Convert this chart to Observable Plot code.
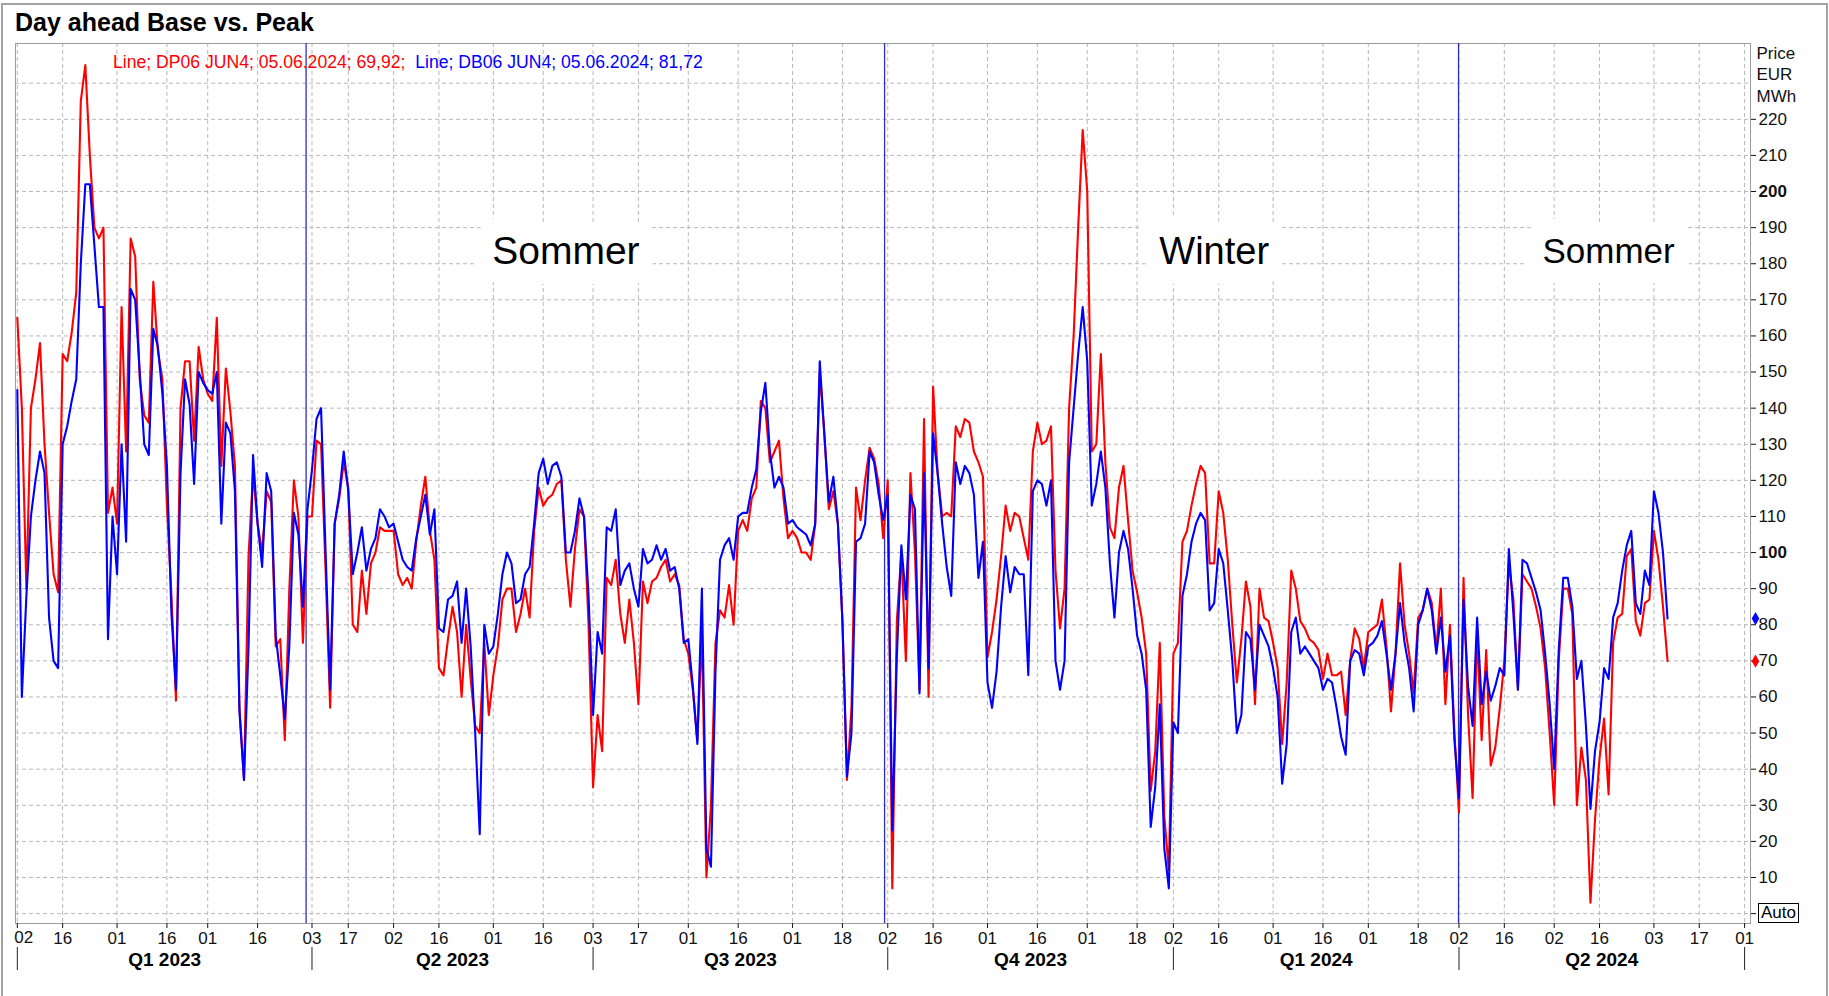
<!DOCTYPE html>
<html>
<head>
<meta charset="utf-8">
<script src="https://cdn.jsdelivr.net/npm/d3@7"></script>
<script src="https://cdn.jsdelivr.net/npm/@observablehq/plot@0.6"></script>
<style>
  body { margin: 0; background: #fff; font-family: "Liberation Sans", Arial, sans-serif; }
  #wrap { position: relative; width: 1829px; height: 996px; overflow: hidden; background: #fff; }
  #outer { position: absolute; left: 1px; top: 3px; width: 1827px; height: 1010px; border: 2px solid #a3a3a3; box-sizing: border-box; }
  #title { position: absolute; left: 15px; top: 8px; font-weight: bold; font-size: 25px; color: #000; white-space: nowrap; }
  #chart { position: absolute; left: 0; top: 36px; }
  #legend { position: absolute; left: 113px; top: 52px; font-size: 17.6px; white-space: pre; }
  #auto { position: absolute; left: 1758px; top: 903px; font-size: 17px; line-height: 18px; border: 1px solid #000; padding: 0 2px; color: #000; }
</style>
</head>
<body>
<div id="wrap">
  <div id="outer"></div>
  <div id="chart"></div>
  <div id="title">Day ahead Base vs. Peak</div>
  <div id="legend"><span style="color:#ff0000">Line; DP06 JUN4; 05.06.2024; 69,92;</span>  <span style="color:#0000ff">Line; DB06 JUN4; 05.06.2024; 81,72</span></div>
  <div id="auto">Auto</div>
</div>
<script>
// Trading-session index: 0 = 02.01.2023 ... 364 = 05.06.2024 (one value per exchange trading day)
const peak = [
  165,140,90,140,148,158,130,111,94,89,
  155,153,161,172,225,235,210,190,187,190,
  111,118,108,168,128,187,182,148,138,136,
  175,156,148,113,88,59,140,153,153,131,
  157,148,144,142,165,124,151,139,124,57,
  37,99,122,108,100,117,114,74,76,48,
  90,120,110,75,110,
  110,131,130,95,57,108,115,125,118,80,
  78,95,83,97,100,107,106,106,106,94,
  91,93,90,103,113,121,106,98,68,66,
  76,85,78,60,80,65,52,50,75,55,
  66,74,87,90,90,78,83,90,82,106,
  118,113,115,116,119,120,98,85,101,112,
  110,80,35,55,45,93,91,98,83,75,
  87,75,58,92,86,92,93,96,98,92,
  94,91,76,
  72,62,48,78,10,30,75,84,82,91,
  80,106,109,106,115,118,142,140,125,128,
  131,115,104,106,104,100,100,98,108,150,
  133,112,117,108,81,37,57,118,109,120,
  129,126,119,104,120,7,81,100,70,122,
  100,62,137,60,146,122,110,111,110,135,
  132,137,136,128,125,121,71,78,87,99,
  113,106,111,110,104,98,128,136,
  130,131,135,95,79,90,140,160,190,217,
  200,128,130,155,125,107,104,118,124,109,
  95,89,82,72,34,45,75,27,12,72,
  75,103,106,113,119,124,122,97,97,117,
  111,98,80,64,76,92,85,58,90,82,
  81,75,68,47,64,95,90,81,79,76,
  75,73,65,72,66,66,67,55,70,79,
  76,68,78,79,80,87,74,56,72,97,
  80,72,61,82,84,90,86,73,90,58,
  80,50,28,93,55,32,78,48,73,41,
  46,57,70,97,87,62,94,92,90,85,
  79,68,50,30,70,90,90,83,30,46,
  37,3,26,43,54,33,75,82,83,99,
  101,81,77,86,87,106,98,85,69.92
];
const base = [
  145,60,88,110,120,128,122,82,70,68,
  130,135,142,148,180,202,202,185,168,168,
  76,110,94,130,103,173,170,150,130,127,
  162,157,144,124,83,62,122,148,141,119,
  150,147,145,144,150,108,136,133,117,56,
  37,74,127,108,96,122,117,77,66,54,
  74,111,105,85,112,
  123,137,140,100,62,108,116,128,117,94,
  100,107,95,101,104,112,110,107,108,103,
  98,96,95,104,110,116,105,112,79,78,
  87,88,92,75,90,74,50,22,80,72,
  74,83,94,100,97,86,87,94,96,108,
  122,126,119,124,125,121,100,100,106,115,
  110,88,55,78,72,107,106,112,91,95,
  97,90,85,101,97,98,102,98,101,95,
  96,90,75,
  76,63,47,90,18,13,67,98,102,104,
  98,110,111,111,118,123,139,147,128,118,
  121,118,108,109,107,106,105,102,108,153,
  133,114,121,108,81,38,50,103,104,108,
  128,125,116,109,116,23,71,102,87,116,
  112,61,122,68,133,122,108,96,88,125,
  119,124,122,116,93,103,64,57,67,85,
  99,89,96,94,94,66,117,120,
  119,113,120,70,62,70,125,140,155,168,
  153,113,119,128,118,97,82,100,106,101,
  90,77,72,62,24,35,58,18,7,53,
  50,88,94,103,108,111,109,84,86,101,
  97,84,70,50,55,78,76,62,80,77,
  74,68,60,36,47,78,82,72,74,72,
  70,68,62,65,64,57,49,44,70,73,
  72,66,74,75,77,81,72,62,72,86,
  75,68,56,80,84,90,84,72,82,67,
  77,48,32,87,63,52,82,58,67,59,
  63,68,66,101,83,62,98,97,93,89,
  84,72,58,40,73,93,93,85,65,70,
  52,29,45,53,68,65,82,86,95,102,
  106,86,83,95,91,117,111,100,81.72
];

// x-axis tick sessions and their day-of-month labels
const tickSessions = [0,10,22,33,42,53, 65,73,83,93,105,116, 127,137,148,159,171,182,
                      192,202,214,225,236,247, 255,265,277,288,298,309, 318,328,339,349,361,371,381];
const tickLabels   = ["02","16","01","16","01","16", "03","17","02","16","01","16", "03","17","01","16","01","18",
                      "02","16","01","16","01","18", "02","16","01","16","01","18", "02","16","02","16","03","17","01"];
const quarterStarts = [0,65,127,192,255,318,381];
const quarterLabels = ["Q1 2023","Q2 2023","Q3 2023","Q4 2023","Q1 2024","Q2 2024"];

// season changes (between last and first session of a quarter) and season names
const seasonBreaks  = [63.7, 191.3, 317.9];
const seasonNames   = ["Sommer","Winter","Sommer"];
const seasonCenters = [121, 264, 351];
const seasonSizes   = [39, 38, 35];

// y axis
const yGrid   = [0,10,20,30,40,50,60,70,80,90,100,110,120,130,140,150,160,170,180,190,200,210,220,230];
const yTicks  = [0,10,20,30,40,50,60,70,80,90,110,120,130,140,150,160,170,180,190,210,220];
const yBold   = [100,200];
const unitLabel = "Price\nEUR\nMWh";

const lastPeak = 69.92, lastBase = 81.72;

const rows = peak.map((v, i) => ({session: i, peak: v, base: base[i]}));
const tickMap = new Map(tickSessions.map((s, i) => [s, tickLabels[i]]));
const quarters = quarterLabels.map((q, i) => ({label: q, mid: (quarterStarts[i] + quarterStarts[i + 1]) / 2}));
const seasons = seasonNames.map((n, i) => ({name: n, s: seasonCenters[i], size: seasonSizes[i]}));

const gridStyle = {stroke: "#b8b8b8", strokeOpacity: 1, strokeDasharray: "4,3", strokeWidth: 1};

const chart = Plot.plot({
  width: 1829,
  height: 960,
  marginTop: 7,
  marginBottom: 73,
  marginLeft: 15,
  marginRight: 79,
  style: {fontFamily: "'Liberation Sans', Arial, sans-serif", fontSize: "17px", background: "transparent", overflow: "visible", color: "#111"},
  x: {domain: [-0.4, 382.3], axis: null},
  y: {domain: [-2.74, 241], axis: null},
  marks: [
    Plot.gridY(yGrid, gridStyle),
    Plot.gridX(tickSessions, gridStyle),
    Plot.text(seasons, {x: "s", text: "name", frameAnchor: "top", lineAnchor: "middle", dy: 208, fontSize: "size",
      fill: "#000", stroke: "#fff", strokeWidth: 40, strokeLinejoin: "round", paintOrder: "stroke"}),
    Plot.frame({stroke: "#9c9c9c"}),
    Plot.ruleX(seasonBreaks, {stroke: "#2f2fbf", strokeWidth: 1.3}),
    Plot.line(rows, {x: "session", y: "peak", stroke: "#ff0000", strokeWidth: 2.1}),
    Plot.line(rows, {x: "session", y: "base", stroke: "#0000ff", strokeWidth: 2.1}),
    Plot.axisY(yTicks, {anchor: "right", tickSize: 5, tickPadding: 3, label: null, fontSize: 17,
      tickFormat: d => d === 0 ? null : String(d)}),
    Plot.axisY(yBold, {anchor: "right", tickSize: 5, tickPadding: 3, label: null, fontSize: 17, fontWeight: "bold"}),
    Plot.text([unitLabel], {frameAnchor: "top-right", textAnchor: "start", lineAnchor: "top", dx: 6, dy: 0, lineHeight: 1.27, fontSize: 17}),
    Plot.dot([lastBase], {y: d => d, frameAnchor: "right", dx: 5, symbol: "diamond", r: 4, fill: "#0000ff", stroke: null}),
    Plot.dot([lastPeak], {y: d => d, frameAnchor: "right", dx: 5, symbol: "diamond", r: 4, fill: "#ff0000", stroke: null}),
    Plot.axisX(tickSessions, {anchor: "bottom", tickSize: 5, tickPadding: 3, label: null, fontSize: 17,
      tickFormat: d => d === 0 ? null : tickMap.get(d)}),
    Plot.text([0], {x: d => d, text: d => tickMap.get(d), frameAnchor: "bottom", lineAnchor: "middle", textAnchor: "start", dx: -3, dy: 14, fontSize: 17}),
    Plot.axisX(quarterStarts, {anchor: "bottom", tickSize: 23, dy: 24, label: null, tickFormat: () => null, stroke: "#222"}),
    Plot.text(quarters, {x: "mid", text: "label", frameAnchor: "bottom", lineAnchor: "middle", dy: 36, fontWeight: "bold", fontSize: 19, fill: "#000"})
  ]
});
document.getElementById("chart").appendChild(chart);
</script>
</body>
</html>
